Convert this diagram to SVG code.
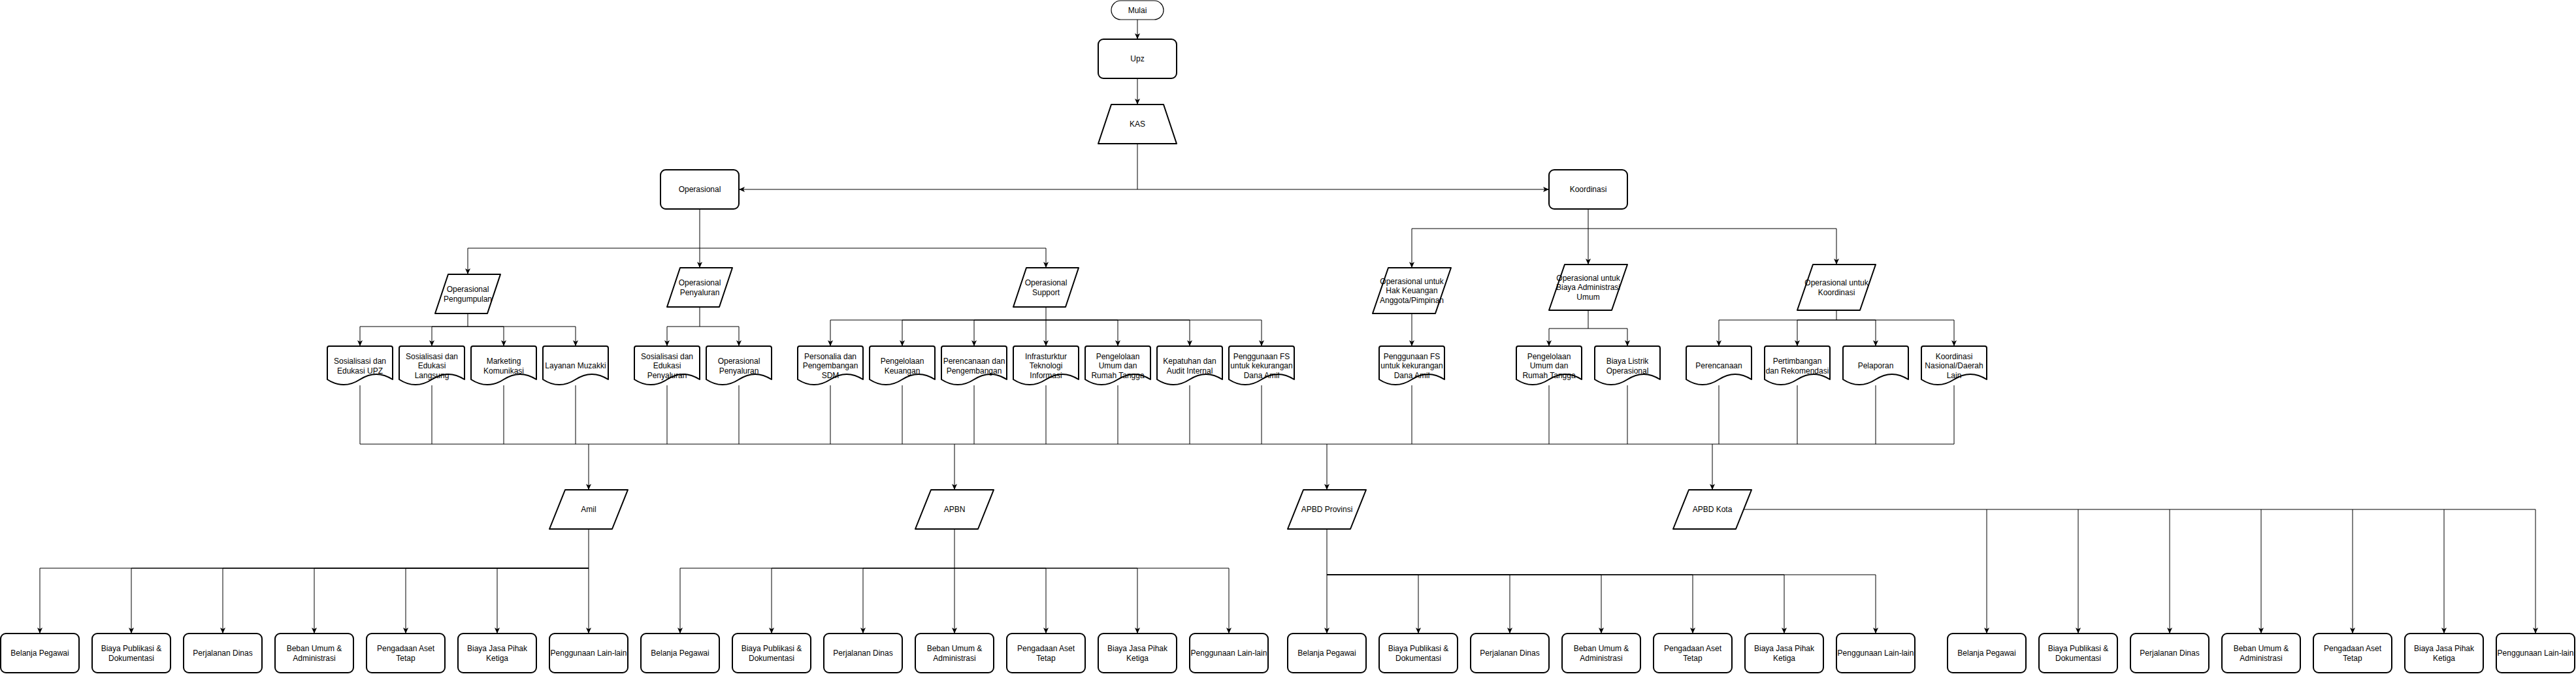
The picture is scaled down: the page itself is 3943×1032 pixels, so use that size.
<svg xmlns="http://www.w3.org/2000/svg" xmlns:xlink="http://www.w3.org/1999/xlink" width="3943" height="1032" viewBox="0 0 3943 1032">
<style>
.s{fill:#fff;stroke:#000;stroke-width:2;stroke-linejoin:round}
.thin{stroke-width:1.2}
.t{font-family:"Liberation Sans",Arial,sans-serif;font-size:12px;fill:#000;text-anchor:middle}
.c path{fill:none;stroke:#000;stroke-width:1}
.a{marker-end:url(#arr)}
</style>
<defs>
<marker id="arr" viewBox="0 0 9 8" refX="9" refY="4" markerWidth="9" markerHeight="8" markerUnits="userSpaceOnUse" orient="auto"><path d="M0,0 L9,4 L0,8 L2.2,4 Z" fill="#000" stroke="none"/></marker>
<path id="doc" d="M0,3 Q0,0 3,0 H97 Q100,0 100,3 V51 Q75,34.8 50,51 Q25,67.2 0,51 Z"/>
<rect id="box" width="120" height="60" rx="8"/>
<path id="para" d="M24,0 H120 L96,60 H0 Z"/>
<path id="para70" d="M24,0 H120 L96,70 H0 Z"/>
<path id="para100" d="M20,0 H100 L80,60 H0 Z"/>
</defs>
<rect width="3943" height="1032" fill="#fff"/>

<g class="c" id="connectors">
<path class="a" d="M1741,30 V60"/>
<path class="a" d="M1741,120 V160"/>
<path class="a" d="M1741,220 V290 H1131"/>
<path class="a" d="M1741,290 H2371"/>
<path class="a" d="M1071,320 V410"/>
<path class="a" d="M1071,380 H716 V420"/>
<path class="a" d="M1071,380 H1601 V410"/>
<path class="a" d="M716,480 V500 H551 V530"/>
<path class="a" d="M716,500 H661 V530"/>
<path class="a" d="M716,500 H771 V530"/>
<path class="a" d="M716,500 H881 V530"/>
<path class="a" d="M1071,470 V500 H1021 V530"/>
<path class="a" d="M1071,500 H1131 V530"/>
<path class="a" d="M1601,470 V530"/>
<path class="a" d="M1601,490 H1271 V530"/>
<path class="a" d="M1601,490 H1381 V530"/>
<path class="a" d="M1601,490 H1491 V530"/>
<path class="a" d="M1601,490 H1711 V530"/>
<path class="a" d="M1601,490 H1821 V530"/>
<path class="a" d="M1601,490 H1931 V530"/>
<path class="a" d="M2431,320 V405"/>
<path class="a" d="M2431,350 H2161 V410"/>
<path class="a" d="M2431,350 H2811 V405"/>
<path class="a" d="M2161,480 V530"/>
<path class="a" d="M2431,475 V503 H2371 V530"/>
<path class="a" d="M2431,503 H2491 V530"/>
<path class="a" d="M2811,475 V490 H2631 V530"/>
<path class="a" d="M2811,490 H2751 V530"/>
<path class="a" d="M2811,490 H2871 V530"/>
<path class="a" d="M2811,490 H2991 V530"/>
<path d="M551,590 V680 M661,590 V680 M771,590 V680 M881,590 V680 M1021,590 V680 M1131,590 V680 M1271,590 V680 M1381,590 V680 M1491,590 V680 M1601,590 V680 M1711,590 V680 M1821,590 V680 M1931,590 V680 M2161,590 V680 M2371,590 V680 M2491,590 V680 M2631,590 V680 M2751,590 V680 M2871,590 V680 M2991,590 V680 M551,680 H2991"/>
<path class="a" d="M901,680 V750"/>
<path class="a" d="M1461,680 V750"/>
<path class="a" d="M2031,680 V750"/>
<path class="a" d="M2621,680 V750"/>
<path class="a" d="M901,810 V970"/>
<path class="a" d="M901,870 H61 V970"/>
<path class="a" d="M901,870 H201 V970"/>
<path class="a" d="M901,870 H341 V970"/>
<path class="a" d="M901,870 H481 V970"/>
<path class="a" d="M901,870 H621 V970"/>
<path class="a" d="M901,870 H761 V970"/>
<path class="a" d="M1461,810 V970"/>
<path class="a" d="M1461,870 H1041 V970"/>
<path class="a" d="M1461,870 H1181 V970"/>
<path class="a" d="M1461,870 H1321 V970"/>
<path class="a" d="M1461,870 H1601 V970"/>
<path class="a" d="M1461,870 H1741 V970"/>
<path class="a" d="M1461,870 H1881 V970"/>
<path class="a" d="M2031,810 V970"/>
<path class="a" d="M2031,880 H2171 V970"/>
<path class="a" d="M2031,880 H2311 V970"/>
<path class="a" d="M2031,880 H2451 V970"/>
<path class="a" d="M2031,880 H2591 V970"/>
<path class="a" d="M2031,880 H2731 V970"/>
<path class="a" d="M2031,880 H2871 V970"/>
<path class="a" d="M2669,780 H3881 V970"/>
<path class="a" d="M3041,780 V970"/>
<path class="a" d="M3181,780 V970"/>
<path class="a" d="M3321,780 V970"/>
<path class="a" d="M3461,780 V970"/>
<path class="a" d="M3601,780 V970"/>
<path class="a" d="M3741,780 V970"/>
</g>

<g id="mulai"><rect class="s thin" x="1701" y="1" width="80" height="29" rx="14.5"/><text class="t" x="1741" y="19.8">Mulai</text></g>
<g id="upz"><rect class="s" x="1681" y="60" width="120" height="60" rx="8"/><text class="t" x="1741" y="94.3">Upz</text></g>
<g id="kas"><path class="s" d="M1701,160 L1781,160 L1801,220 L1681,220 Z"/><text class="t" x="1741" y="194.3">KAS</text></g>
<g id="operasional"><use href="#box" class="s" x="1011" y="260"/><text class="t" x="1071" y="294.3">Operasional</text></g>
<g id="koordinasi"><use href="#box" class="s" x="2371" y="260"/><text class="t" x="2431" y="294.3">Koordinasi</text></g>

<g id="op-pengumpulan"><use href="#para100" class="s" x="666" y="420"/><text class="t" x="716" y="447.1">Operasional<tspan x="716" dy="14.4">Pengumpulan</tspan></text></g>
<g id="op-penyaluran"><use href="#para100" class="s" x="1021" y="410"/><text class="t" x="1071" y="437.1">Operasional<tspan x="1071" dy="14.4">Penyaluran</tspan></text></g>
<g id="op-support"><use href="#para100" class="s" x="1551" y="410"/><text class="t" x="1601" y="437.1">Operasional<tspan x="1601" dy="14.4">Support</tspan></text></g>
<g id="op-hak"><use href="#para70" class="s" x="2101" y="410"/><text class="t" x="2161" y="434.9">Operasional untuk<tspan x="2161" dy="14.4">Hak Keuangan</tspan><tspan x="2161" dy="14.4">Anggota/Pimpinan</tspan></text></g>
<g id="op-admin"><use href="#para70" class="s" x="2371" y="405"/><text class="t" x="2431" y="429.9">Operasional untuk<tspan x="2431" dy="14.4">Biaya Administrasi</tspan><tspan x="2431" dy="14.4">Umum</tspan></text></g>
<g id="op-koordinasi"><use href="#para70" class="s" x="2751" y="405"/><text class="t" x="2811" y="437.1">Operasional untuk<tspan x="2811" dy="14.4">Koordinasi</tspan></text></g>

<g id="d-sos-upz"><use href="#doc" class="s" x="501" y="530"/><text class="t" x="551" y="557.1">Sosialisasi dan<tspan x="551" dy="14.4">Edukasi UPZ</tspan></text></g>
<g id="d-sos-langsung"><use href="#doc" class="s" x="611" y="530"/><text class="t" x="661" y="549.9">Sosialisasi dan<tspan x="661" dy="14.4">Edukasi</tspan><tspan x="661" dy="14.4">Langsung</tspan></text></g>
<g id="d-marketing"><use href="#doc" class="s" x="721" y="530"/><text class="t" x="771" y="557.1">Marketing<tspan x="771" dy="14.4">Komunikasi</tspan></text></g>
<g id="d-layanan"><use href="#doc" class="s" x="831" y="530"/><text class="t" x="881" y="564.3">Layanan Muzakki</text></g>
<g id="d-sos-penyaluran"><use href="#doc" class="s" x="971" y="530"/><text class="t" x="1021" y="549.9">Sosialisasi dan<tspan x="1021" dy="14.4">Edukasi</tspan><tspan x="1021" dy="14.4">Penyaluran</tspan></text></g>
<g id="d-op-penyaluran"><use href="#doc" class="s" x="1081" y="530"/><text class="t" x="1131" y="557.1">Operasional<tspan x="1131" dy="14.4">Penyaluran</tspan></text></g>
<g id="d-personalia"><use href="#doc" class="s" x="1221" y="530"/><text class="t" x="1271" y="549.9">Personalia dan<tspan x="1271" dy="14.4">Pengembangan</tspan><tspan x="1271" dy="14.4">SDM</tspan></text></g>
<g id="d-keuangan"><use href="#doc" class="s" x="1331" y="530"/><text class="t" x="1381" y="557.1">Pengelolaan<tspan x="1381" dy="14.4">Keuangan</tspan></text></g>
<g id="d-perencanaan-peng"><use href="#doc" class="s" x="1441" y="530"/><text class="t" x="1491" y="557.1">Perencanaan dan<tspan x="1491" dy="14.4">Pengembangan</tspan></text></g>
<g id="d-infra"><use href="#doc" class="s" x="1551" y="530"/><text class="t" x="1601" y="549.9">Infrasturktur<tspan x="1601" dy="14.4">Teknologi</tspan><tspan x="1601" dy="14.4">Informasi</tspan></text></g>
<g id="d-umum-rt"><use href="#doc" class="s" x="1661" y="530"/><text class="t" x="1711" y="549.9">Pengelolaan<tspan x="1711" dy="14.4">Umum dan</tspan><tspan x="1711" dy="14.4">Rumah Tangga</tspan></text></g>
<g id="d-kepatuhan"><use href="#doc" class="s" x="1771" y="530"/><text class="t" x="1821" y="557.1">Kepatuhan dan<tspan x="1821" dy="14.4">Audit Internal</tspan></text></g>
<g id="d-fs-support"><use href="#doc" class="s" x="1881" y="530"/><text class="t" x="1931" y="549.9">Penggunaan FS<tspan x="1931" dy="14.4">untuk kekurangan</tspan><tspan x="1931" dy="14.4">Dana Amil</tspan></text></g>
<g id="d-fs-hak"><use href="#doc" class="s" x="2111" y="530"/><text class="t" x="2161" y="549.9">Penggunaan FS<tspan x="2161" dy="14.4">untuk kekurangan</tspan><tspan x="2161" dy="14.4">Dana Amil</tspan></text></g>
<g id="d-umum-rt2"><use href="#doc" class="s" x="2321" y="530"/><text class="t" x="2371" y="549.9">Pengelolaan<tspan x="2371" dy="14.4">Umum dan</tspan><tspan x="2371" dy="14.4">Rumah Tangga</tspan></text></g>
<g id="d-listrik"><use href="#doc" class="s" x="2441" y="530"/><text class="t" x="2491" y="557.1">Biaya Listrik<tspan x="2491" dy="14.4">Operasional</tspan></text></g>
<g id="d-perencanaan"><use href="#doc" class="s" x="2581" y="530"/><text class="t" x="2631" y="564.3">Perencanaan</text></g>
<g id="d-pertimbangan"><use href="#doc" class="s" x="2701" y="530"/><text class="t" x="2751" y="557.1">Pertimbangan<tspan x="2751" dy="14.4">dan Rekomendasi</tspan></text></g>
<g id="d-pelaporan"><use href="#doc" class="s" x="2821" y="530"/><text class="t" x="2871" y="564.3">Pelaporan</text></g>
<g id="d-koord-nas"><use href="#doc" class="s" x="2941" y="530"/><text class="t" x="2991" y="549.9">Koordinasi<tspan x="2991" dy="14.4">Nasional/Daerah</tspan><tspan x="2991" dy="14.4">Lain</tspan></text></g>

<g id="amil"><use href="#para" class="s" x="841" y="750"/><text class="t" x="901" y="784.3">Amil</text></g>
<g id="apbn"><use href="#para" class="s" x="1401" y="750"/><text class="t" x="1461" y="784.3">APBN</text></g>
<g id="apbd-provinsi"><use href="#para" class="s" x="1971" y="750"/><text class="t" x="2031" y="784.3">APBD Provinsi</text></g>
<g id="apbd-kota"><use href="#para" class="s" x="2561" y="750"/><text class="t" x="2621" y="784.3">APBD Kota</text></g>

<g id="amil-1"><use href="#box" class="s" x="1" y="970"/><text class="t" x="61" y="1004.3">Belanja Pegawai</text></g>
<g id="amil-2"><use href="#box" class="s" x="141" y="970"/><text class="t" x="201" y="997.1">Biaya Publikasi &amp;<tspan x="201" dy="14.4">Dokumentasi</tspan></text></g>
<g id="amil-3"><use href="#box" class="s" x="281" y="970"/><text class="t" x="341" y="1004.3">Perjalanan Dinas</text></g>
<g id="amil-4"><use href="#box" class="s" x="421" y="970"/><text class="t" x="481" y="997.1">Beban Umum &amp;<tspan x="481" dy="14.4">Administrasi</tspan></text></g>
<g id="amil-5"><use href="#box" class="s" x="561" y="970"/><text class="t" x="621" y="997.1">Pengadaan Aset<tspan x="621" dy="14.4">Tetap</tspan></text></g>
<g id="amil-6"><use href="#box" class="s" x="701" y="970"/><text class="t" x="761" y="997.1">Biaya Jasa Pihak<tspan x="761" dy="14.4">Ketiga</tspan></text></g>
<g id="amil-7"><use href="#box" class="s" x="841" y="970"/><text class="t" x="901" y="1004.3">Penggunaan Lain-lain</text></g>

<g id="apbn-1"><use href="#box" class="s" x="981" y="970"/><text class="t" x="1041" y="1004.3">Belanja Pegawai</text></g>
<g id="apbn-2"><use href="#box" class="s" x="1121" y="970"/><text class="t" x="1181" y="997.1">Biaya Publikasi &amp;<tspan x="1181" dy="14.4">Dokumentasi</tspan></text></g>
<g id="apbn-3"><use href="#box" class="s" x="1261" y="970"/><text class="t" x="1321" y="1004.3">Perjalanan Dinas</text></g>
<g id="apbn-4"><use href="#box" class="s" x="1401" y="970"/><text class="t" x="1461" y="997.1">Beban Umum &amp;<tspan x="1461" dy="14.4">Administrasi</tspan></text></g>
<g id="apbn-5"><use href="#box" class="s" x="1541" y="970"/><text class="t" x="1601" y="997.1">Pengadaan Aset<tspan x="1601" dy="14.4">Tetap</tspan></text></g>
<g id="apbn-6"><use href="#box" class="s" x="1681" y="970"/><text class="t" x="1741" y="997.1">Biaya Jasa Pihak<tspan x="1741" dy="14.4">Ketiga</tspan></text></g>
<g id="apbn-7"><use href="#box" class="s" x="1821" y="970"/><text class="t" x="1881" y="1004.3">Penggunaan Lain-lain</text></g>

<g id="prov-1"><use href="#box" class="s" x="1971" y="970"/><text class="t" x="2031" y="1004.3">Belanja Pegawai</text></g>
<g id="prov-2"><use href="#box" class="s" x="2111" y="970"/><text class="t" x="2171" y="997.1">Biaya Publikasi &amp;<tspan x="2171" dy="14.4">Dokumentasi</tspan></text></g>
<g id="prov-3"><use href="#box" class="s" x="2251" y="970"/><text class="t" x="2311" y="1004.3">Perjalanan Dinas</text></g>
<g id="prov-4"><use href="#box" class="s" x="2391" y="970"/><text class="t" x="2451" y="997.1">Beban Umum &amp;<tspan x="2451" dy="14.4">Administrasi</tspan></text></g>
<g id="prov-5"><use href="#box" class="s" x="2531" y="970"/><text class="t" x="2591" y="997.1">Pengadaan Aset<tspan x="2591" dy="14.4">Tetap</tspan></text></g>
<g id="prov-6"><use href="#box" class="s" x="2671" y="970"/><text class="t" x="2731" y="997.1">Biaya Jasa Pihak<tspan x="2731" dy="14.4">Ketiga</tspan></text></g>
<g id="prov-7"><use href="#box" class="s" x="2811" y="970"/><text class="t" x="2871" y="1004.3">Penggunaan Lain-lain</text></g>

<g id="kota-1"><use href="#box" class="s" x="2981" y="970"/><text class="t" x="3041" y="1004.3">Belanja Pegawai</text></g>
<g id="kota-2"><use href="#box" class="s" x="3121" y="970"/><text class="t" x="3181" y="997.1">Biaya Publikasi &amp;<tspan x="3181" dy="14.4">Dokumentasi</tspan></text></g>
<g id="kota-3"><use href="#box" class="s" x="3261" y="970"/><text class="t" x="3321" y="1004.3">Perjalanan Dinas</text></g>
<g id="kota-4"><use href="#box" class="s" x="3401" y="970"/><text class="t" x="3461" y="997.1">Beban Umum &amp;<tspan x="3461" dy="14.4">Administrasi</tspan></text></g>
<g id="kota-5"><use href="#box" class="s" x="3541" y="970"/><text class="t" x="3601" y="997.1">Pengadaan Aset<tspan x="3601" dy="14.4">Tetap</tspan></text></g>
<g id="kota-6"><use href="#box" class="s" x="3681" y="970"/><text class="t" x="3741" y="997.1">Biaya Jasa Pihak<tspan x="3741" dy="14.4">Ketiga</tspan></text></g>
<g id="kota-7"><use href="#box" class="s" x="3821" y="970"/><text class="t" x="3881" y="1004.3">Penggunaan Lain-lain</text></g>
</svg>
